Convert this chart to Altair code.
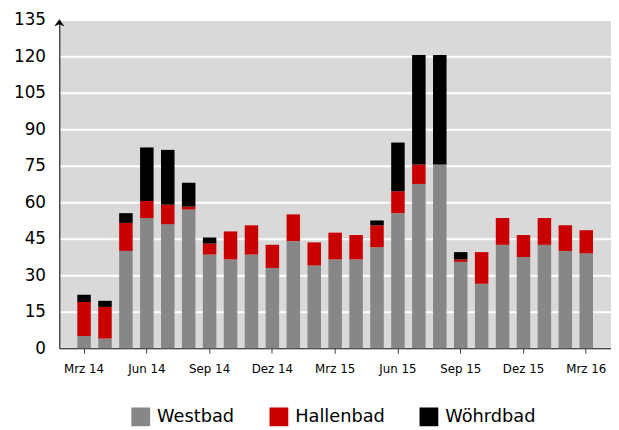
import altair as alt
import pandas as pd

months = ["Mrz 14", "Apr 14", "Mai 14", "Jun 14", "Jul 14", "Aug 14", "Sep 14", "Okt 14",
          "Nov 14", "Dez 14", "Jan 15", "Feb 15", "Mrz 15", "Apr 15", "Mai 15", "Jun 15",
          "Jul 15", "Aug 15", "Sep 15", "Okt 15", "Nov 15", "Dez 15", "Jan 16", "Feb 16", "Mrz 16"]
westbad = [5, 4, 40, 53.5, 51, 57, 38.5, 36.5, 38.5, 33, 44, 34, 36.5, 36.5, 41.5, 55.5,
           67.5, 75.5, 35.5, 26.5, 42.5, 37.5, 42.5, 40, 39]
hallenbad = [14, 13, 11.5, 7, 8, 1.2, 4.5, 11.5, 12, 9.5, 11, 9.5, 11, 10, 9, 9,
             8, 0, 1, 13, 11, 9, 11, 10.5, 9.5]
woehrdbad = [3, 2.5, 4, 22, 22.5, 9.8, 2.5, 0, 0, 0, 0, 0, 0, 0, 2, 20,
             45, 45, 3, 0, 0, 0, 0, 0, 0]
series = ["Westbad", "Hallenbad", "Wöhrdbad"]
colors = ["#878787", "#c80000", "#000000"]
tick_labels = ["Mrz 14", "Jun 14", "Sep 14", "Dez 14", "Mrz 15", "Jun 15", "Sep 15", "Dez 15", "Mrz 16"]
y_ticks = [0, 15, 30, 45, 60, 75, 90, 105, 120, 135]

rows = []
for i, m in enumerate(months):
    for k, (name, vals) in enumerate(zip(series, [westbad, hallenbad, woehrdbad])):
        if vals[i] > 0:
            rows.append({"Monat": m, "Bad": name, "Wert": vals[i], "ord": k})
df = pd.DataFrame(rows)

FONT = "DejaVu Sans"
yscale = alt.Scale(domain=[0, 135], nice=False)
yaxis = alt.Axis(values=y_ticks, labelFontSize=17, labelFont=FONT, labelColor="#000000",
                 ticks=False, labelPadding=14, domainColor="#000000", domainWidth=1,
                 grid=True, gridColor="#ffffff", gridWidth=2)

bars = alt.Chart(df).mark_bar().encode(
    x=alt.X("Monat:N", sort=months, title=None,
            scale=alt.Scale(paddingInner=0.355, paddingOuter=0.86),
            axis=alt.Axis(values=tick_labels, labelAngle=0, labelFontSize=12, labelFont=FONT,
                          labelColor="#000000", tickSize=5, tickColor="#444444",
                          domainColor="#000000", domainWidth=1, labelPadding=11, grid=False)),
    y=alt.Y("Wert:Q", stack="zero", title=None, scale=yscale, axis=yaxis),
    color=alt.Color("Bad:N", scale=alt.Scale(domain=series, range=colors),
                    legend=alt.Legend(title=None, orient="none", direction="horizontal",
                                      legendX=73, legendY=393, symbolType="square",
                                      symbolSize=361, symbolStrokeWidth=0, symbolOpacity=1,
                                      labelFontSize=18, labelFont=FONT, labelColor="#000000",
                                      labelOffset=7, columnPadding=35)),
    order=alt.Order("ord:Q"),
)

arrow = alt.Chart(pd.DataFrame({"Wert": [135]})).mark_point(
    shape="M0,0L-1,1.4L0,1L1,1.4Z", filled=True, fill="#000000", stroke="#000000",
    strokeWidth=0.5, size=81, opacity=1
).encode(
    x=alt.value(0),
    y=alt.Y("Wert:Q", title=None, scale=yscale, axis=yaxis),
)

chart = alt.layer(bars, arrow).properties(
    width=559, height=333,
    autosize=alt.AutoSizeParams(type="none"),
    padding={"left": 52, "top": 9, "right": 0, "bottom": 78},
).configure_view(fill="#d9d9d9", stroke=None)

chart.save("out.html", embed_options={"renderer": "svg", "actions": False})
